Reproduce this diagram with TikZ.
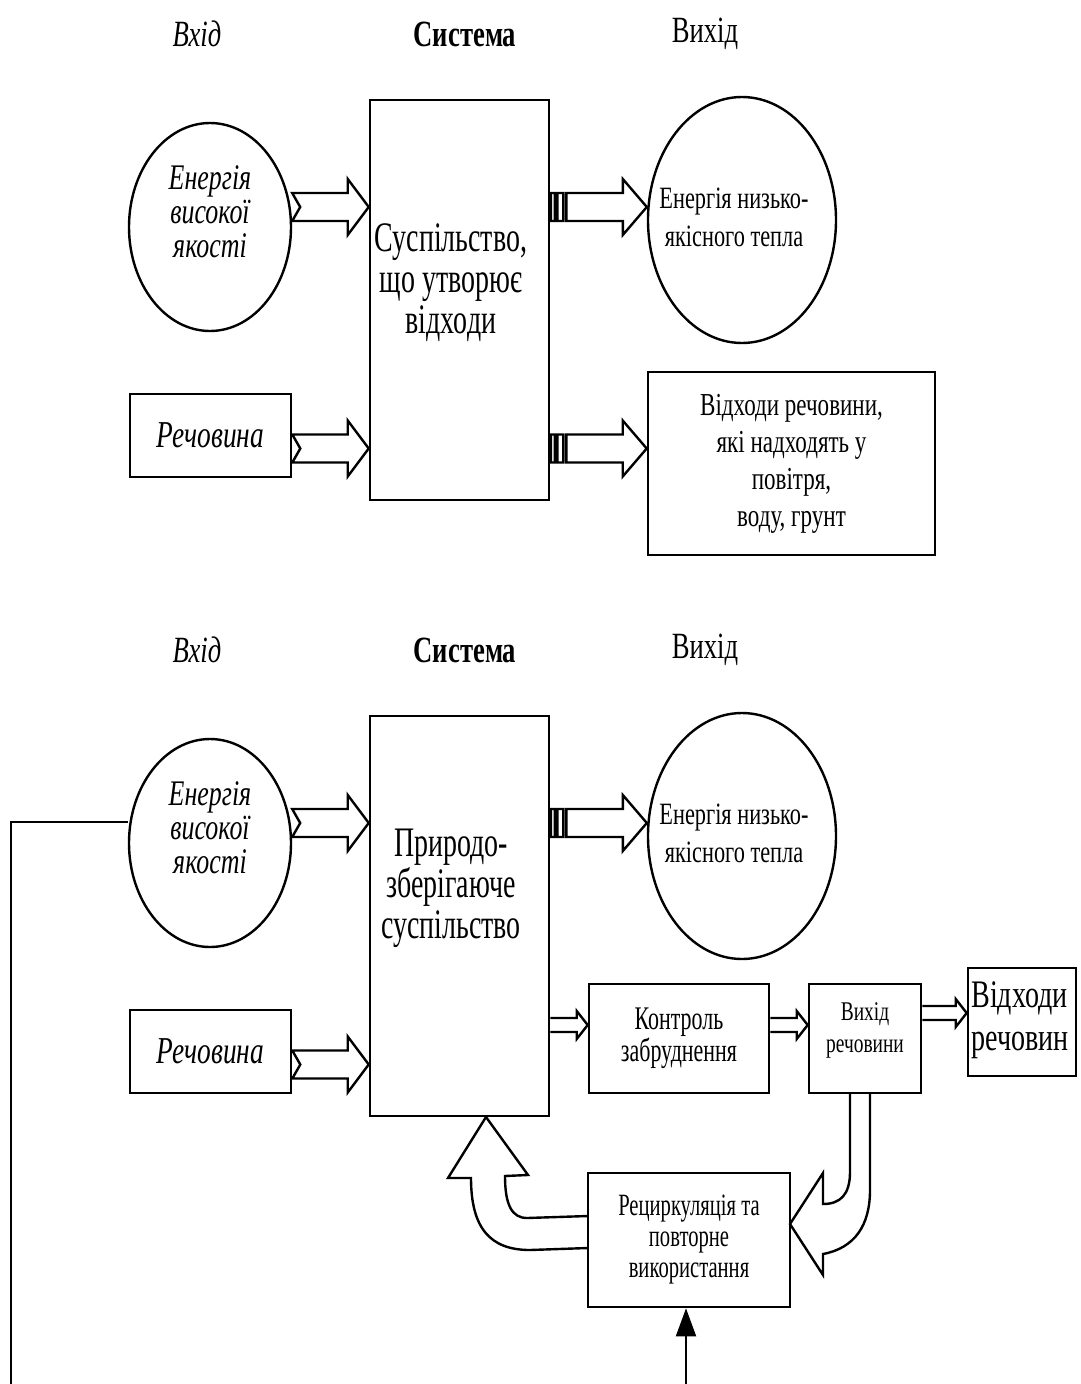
\documentclass[tikz,border=0pt]{standalone}
\usepackage{fontspec}
\setmainfont{Liberation Serif}[FakeStretch=0.72]
\newfontfamily\narrowfont{Liberation Serif}[FakeStretch=0.665]
\usetikzlibrary{shapes.geometric,arrows.meta,calc}

\tikzset{
  notcharrow/.style={to path={let \p1=(\tikztostart),\p2=(\tikztotarget) in
    (\x1,\y1+14pt) -- (\x2-21pt,\y1+14pt) -- (\x2-21pt,\y1+28pt) -- (\x2,\y1)
    -- (\x2-21pt,\y1-28pt) -- (\x2-21pt,\y1-14pt) -- (\x1,\y1-14pt)
    -- (\x1+8pt,\y1) -- cycle}},
  stripearrow/.style={to path={let \p1=(\tikztostart),\p2=(\tikztotarget) in
    [line width=1.4pt] (\x1+0.5pt,\y1+14pt) rectangle (\x1+4.5pt,\y1-14pt)
    (\x1+7pt,\y1+14pt) rectangle (\x1+13pt,\y1-14pt)
    (\x1+16pt,\y1+14pt) -- (\x2-24pt,\y1+14pt) -- (\x2-24pt,\y1+28pt) -- (\x2,\y1)
    -- (\x2-24pt,\y1-28pt) -- (\x2-24pt,\y1-14pt) -- (\x1+16pt,\y1-14pt) -- cycle}},
  smallarrow/.style={to path={let \p1=(\tikztostart),\p2=(\tikztotarget) in
    (\x1,\y1+7pt) -- (\x2-11pt,\y1+7pt) -- (\x2-11pt,\y1+14pt) -- (\x2,\y1)
    -- (\x2-11pt,\y1-14pt) -- (\x2-11pt,\y1-7pt) -- (\x1,\y1-7pt)}}
}

\begin{document}
\begin{tikzpicture}[x=1pt,y=-1pt,
    fat/.style={line width=2.4pt,line join=miter},
    thinln/.style={line width=2pt},
    box/.style={draw,rectangle,line width=2.6pt,inner sep=0pt},
    oval/.style={draw,ellipse,line width=2.4pt,inner sep=0pt},
    hdr/.style={font=\fontsize{37}{40}\selectfont},
    bigtxt/.style={font=\narrowfont\fontsize{42}{41}\selectfont,align=center},
    ittxt/.style={font=\fontsize{36}{34}\selectfont\itshape,align=center},
    midtxt/.style={font=\fontsize{31}{38}\selectfont,align=center}]

\useasboundingbox (0,0) rectangle (1081,1384);

%%% first scheme %%%

  \node (IN1) at (197,34) [hdr] {\itshape Вхід};
  \node (SH1) at (465,34) [hdr] {\bfseries Система};
  \node (OUT1) at (705,34) [hdr] {Вихід};

  \node (EH1) at (210,227) [oval,minimum width=162pt,minimum height=208pt] {};
  \node (EH1t) at (210,212) [ittxt] {Енергія\\високої\\якості};
  \node (RV1) at (210.5,435.5) [box,minimum width=161pt,minimum height=83pt,
     font=\fontsize{38}{40}\selectfont\itshape] {Речовина};

  \node (SYS1) at (459.5,300) [box,minimum width=179pt,minimum height=400pt] {};
  \node (SYS1t) at (451,283) [bigtxt] {Суспільство,\\що утворює\\відходи};

  \node (EL1) at (742,220) [oval,minimum width=188pt,minimum height=246pt] {};
  \node (EL1t) at (734,217) [midtxt] {Енергія низько-\\якісного тепла};
  \node (WS1) at (791.5,463.5) [box,minimum width=287pt,minimum height=183pt,
     font=\fontsize{32}{37}\selectfont,align=center]
     {Відходи речовини,\\які надходять у\\повітря,\\воду, грунт};

\coordinate (a1) at ([yshift=20pt]EH1.east);
\coordinate (a2) at ([yshift=-13pt]RV1.east);

\draw[fat,notcharrow] (a1) to (SYS1.west);
\draw[fat,notcharrow] (a2) to (SYS1.west);
\draw[fat,stripearrow] (SYS1.east |- a1) to (EL1.west);
\draw[fat,stripearrow] (SYS1.east |- a2) to (WS1.west);

%%% second scheme %%%

  \node (IN2) at (197,650) [hdr] {\itshape Вхід};
  \node (SH2) at (465,650) [hdr] {\bfseries Система};
  \node (OUT2) at (705,650) [hdr] {Вихід};

  \node (EH2) at (210,843) [oval,minimum width=162pt,minimum height=208pt] {};
  \node (EH2t) at (210,828) [ittxt] {Енергія\\високої\\якості};
  \node (RV2) at (210.5,1051.5) [box,minimum width=161pt,minimum height=83pt,
     font=\fontsize{38}{40}\selectfont\itshape] {Речовина};

  \node (SYS2) at (459.5,916) [box,minimum width=179pt,minimum height=400pt] {};
  \node (SYS2t) at (451,888) [bigtxt] {Природо-\\зберігаюче\\суспільство};

  \node (EL2) at (742,836) [oval,minimum width=188pt,minimum height=246pt] {};
  \node (EL2t) at (734,833) [midtxt] {Енергія низько-\\якісного тепла};

  \node (KZ) at (679,1038.5) [box,minimum width=180pt,minimum height=109pt,
     font=\narrowfont\fontsize{33}{27}\selectfont,align=center] {Контроль\\забруднення};
  \node (VR) at (865,1038.5) [box,minimum width=112pt,minimum height=109pt] {};
  \node (VRt) at (865,1030) [font=\fontsize{27}{32}\selectfont,align=center] {Вихід\\речовини};
  \node (WR) at (1022,1022) [box,minimum width=108pt,minimum height=108pt] {};
  \node (WRt) at (1020,1020) [font=\fontsize{39}{43}\selectfont,align=left] {Відходи\\речовин};

  \node (RC) at (689,1240) [box,minimum width=202pt,minimum height=134pt,
     font=\narrowfont\fontsize{31}{31}\selectfont,align=center] {Рециркуляція та\\повторне\\використання};

\coordinate (b1) at ([yshift=20pt]EH2.east);
\coordinate (b2) at ([yshift=-13pt]RV2.east);
\coordinate (b3) at ([yshift=13.5pt]KZ.west);
\coordinate (b4) at ([yshift=25.5pt]VR.east);

\draw[fat,notcharrow] (b1) to (SYS2.west);
\draw[fat,notcharrow] (b2) to (SYS2.west);
\draw[fat,stripearrow] (SYS2.east |- b1) to (EL2.west);
\draw[fat,smallarrow] (SYS2.east |- b3) to (b3);
\draw[fat,smallarrow] (KZ.east |- b3) to (VR.west);
\draw[fat,smallarrow] (b4) to (WR.west);

% curved arrows of the recycling loop
\draw[fat] (850,1093) -- (850,1172) .. controls (850,1195) and (840,1204) .. (823,1204)
   -- (823,1173) -- (790,1224) -- (823,1275) -- (823,1254)
   .. controls (855,1248) and (870,1225) .. (870,1190) -- (870,1093);
\draw[fat] (588,1216) -- (527,1218) .. controls (512,1218) and (505,1205) .. (505,1176)
   -- (528,1175) -- (486,1117) -- (448,1178) -- (471,1178)
   .. controls (471,1228) and (490,1250) .. (530,1250) -- (588,1248);

% feedback line
\coordinate (fbL) at (11,1384);
\coordinate (fbR) at (686,1384);
\draw[thinln] ([yshift=21pt]EH2.west) -| (fbL);
\draw[thinln,-{Triangle[length=28pt,width=20pt]}] (fbR) -- (fbR |- RC.south);

\end{tikzpicture}
\end{document}
